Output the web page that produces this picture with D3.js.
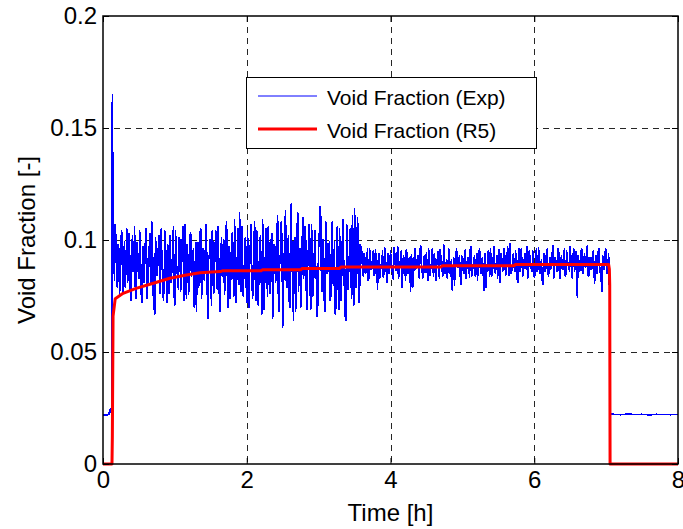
<!DOCTYPE html>
<html><head><meta charset="utf-8">
<script src="https://cdn.jsdelivr.net/npm/d3@7"></script>
<style>
body{margin:0;background:#fff}
text{font-family:"Liberation Sans",Arial,Helvetica,sans-serif;fill:#000}
</style>
</head><body>
<svg id="chart" width="683" height="529"></svg>
<script>
// ---------- data ----------
const xTicks = [0, 2, 4, 6, 8];
const xTickLabels = ["0", "2", "4", "6", "8"];
const yTicks = [0, 0.05, 0.1, 0.15, 0.2];
const yTickLabels = ["0", "0.05", "0.1", "0.15", "0.2"];
const seriesNames = ["Void Fraction (Exp)", "Void Fraction (R5)"];
const xLabel = "Time [h]";
const yLabel = "Void Fraction [-]";

// Experimental void fraction, sampled segments (start time [h], step [h], values)
const expBeforeStart = 0, expBeforeStep = 0.02;
const expBefore = [0.0222,0.0218,0.0221,0.0219,0.0222,0.0245,0.0221];
const expSpike = [[0.13, 0.165]];
const expTransientStart = 0.14, expTransientStep = 0.02;
const expTransient = [
0.114,0.082,0.101,0.079,0.096,0.084,0.104,0.076,0.099,0.088,
0.081,0.103,0.077,0.095,0.086,0.106,0.074,0.092,0.083,0.100,
0.072,0.097,0.089,0.105,0.078,0.093,0.085,0.108,0.075,0.067,
0.096,0.087,0.102,0.079,0.091,0.073,0.104,0.084,0.098,0.076,
0.094,0.088,0.106,0.071,0.090,0.082,0.101,0.077,0.097,0.086,
0.107,0.074,0.093,0.080,0.103,0.085,0.096,0.072,0.068,0.099,
0.083,0.105,0.078,0.094,0.089,0.102,0.065,0.092,0.081,0.104,
0.076,0.097,0.087,0.106,0.073,0.095,0.084,0.100,0.079,0.108,
0.070,0.093,0.086,0.103,0.075,0.098,0.082,0.105,0.112,0.077,
0.096,0.085,0.101,0.072,0.094,0.088,0.107,0.074,0.099,0.080,
0.104,0.071,0.097,0.086,0.109,0.069,0.095,0.083,0.106,0.076,
0.100,0.065,0.098,0.081,0.104,0.073,0.093,0.108,0.061,0.090,
0.113,0.079,0.102,0.070,0.116,0.084,0.099,0.068,0.105,0.077,
0.096,0.072,0.110,0.086,0.101,0.069,0.097,0.080,0.107,0.075,
0.094,0.083,0.066,0.103,0.115,0.078,0.100,0.071,0.108,0.085,
0.096,0.073,0.104,0.081,0.099,0.070,0.106,0.069,0.095,0.082,
0.109,0.076,0.064,0.101,0.087,0.105,0.074,0.097,0.114,0.079,
0.110,0.072,0.098];
const expTransientBStart = 0.15, expTransientBStep = 0.02;
const expTransientB = [
0.093,0.107,0.080,0.098,0.075,0.101,0.087,0.094,0.079,0.105,
0.083,0.097,0.073,0.102,0.090,0.078,0.099,0.086,0.104,0.077,
0.095,0.081,0.100,0.074,0.092,0.103,0.080,0.096,0.070,0.101,
0.084,0.097,0.076,0.105,0.088,0.079,0.099,0.072,0.093,0.102,
0.081,0.096,0.075,0.104,0.087,0.078,0.100,0.083,0.106,0.073,
0.091,0.098,0.076,0.102,0.084,0.095,0.070,0.099,0.088,0.079,
0.103,0.074,0.096,0.082,0.107,0.077,0.093,0.100,0.071,0.097,
0.085,0.104,0.078,0.092,0.068,0.101,0.089,0.076,0.105,0.083,
0.097,0.074,0.102,0.086,0.109,0.072,0.094,0.080,0.099,0.106,
0.075,0.091,0.083,0.104,0.070,0.098,0.087,0.078,0.108,0.073,
0.096,0.085,0.102,0.067,0.099,0.081,0.105,0.075,0.094,0.088,
0.103,0.071,0.097,0.084,0.111,0.068,0.092,0.100,0.076,0.106,
0.082,0.095,0.073,0.109,0.087,0.064,0.101,0.079,0.112,0.085,
0.070,0.098,0.083,0.106,0.074,0.093,0.107,0.069,0.100,0.081,
0.104,0.088,0.072,0.097,0.110,0.077,0.094,0.068,0.103,0.086,
0.099,0.075,0.108,0.080,0.067,0.096,0.084,0.105,0.073,0.100,
0.089,0.066,0.107,0.078,0.095,0.083,0.111,0.071,0.099,0.085,
0.104,0.076];
const expSteadyStart = 3.60, expSteadyStep = 0.02;
const expSteady = [
0.095,0.084,0.0935,0.086,0.096,0.083,0.091,0.087,0.095,0.0845,
0.092,0.078,0.094,0.086,0.090,0.0835,0.0965,0.087,0.093,0.085,
0.095,0.088,0.0825,0.094,0.0865,0.097,0.084,0.0915,0.079,0.093,
0.0875,0.0955,0.085,0.092,0.077,0.090,0.084,0.096,0.088,0.093,
0.083,0.0975,0.086,0.091,0.0855,0.0945,0.082,0.0925,0.087,0.096,
0.084,0.0905,0.088,0.095,0.083,0.093,0.086,0.098,0.085,0.091,
0.087,0.094,0.084,0.0775,0.092,0.086,0.096,0.088,0.093,0.080,
0.090,0.085,0.0955,0.087,0.092,0.0835,0.097,0.086,0.091,0.084,
0.094,0.088,0.096,0.085,0.092,0.0775,0.093,0.087,0.095,0.084,
0.0915,0.086,0.097,0.085,0.093,0.088,0.081,0.094,0.086,0.096,
0.0845,0.092,0.087,0.0985,0.085,0.091,0.088,0.095,0.083,0.093,
0.086,0.096,0.084,0.091,0.088,0.097,0.085,0.0925,0.087,0.095,
0.0835,0.093,0.086,0.0965,0.085,0.091,0.080,0.094,0.087,0.096,
0.084,0.092,0.088,0.0975,0.085,0.091,0.086,0.095,0.083,0.093,
0.087,0.096,0.0845,0.092,0.088,0.097,0.085,0.093,0.086,0.095,
0.0745,0.091,0.087,0.096,0.085,0.094,0.088,0.0975,0.084,0.092,
0.087,0.095,0.0805,0.093,0.086,0.096,0.085,0.077,0.092,0.088,
0.0955,0.086];
const expSteadyBStart = 3.61, expSteadyBStep = 0.02;
const expSteadyB = [
0.088,0.094,0.085,0.090,0.082,0.096,0.087,0.092,0.084,0.0955,
0.086,0.091,0.083,0.089,0.095,0.085,0.092,0.081,0.094,0.088,
0.090,0.084,0.0965,0.087,0.092,0.083,0.089,0.095,0.085,0.091,
0.082,0.094,0.088,0.086,0.0935,0.079,0.092,0.087,0.091,0.085,
0.095,0.088,0.083,0.093,0.089,0.086,0.096,0.084,0.090,0.087,
0.094,0.082,0.091,0.086,0.0955,0.088,0.084,0.092,0.089,0.083,
0.096,0.085,0.091,0.087,0.080,0.094,0.088,0.090,0.084,0.093,
0.087,0.095,0.083,0.091,0.088,0.096,0.084,0.089,0.093,0.086,
0.082,0.095,0.087,0.091,0.085,0.094,0.079,0.090,0.088,0.096,
0.084,0.092,0.087,0.089,0.083,0.0955,0.086,0.091,0.088,0.093,
0.085,0.097,0.084,0.090,0.087,0.094,0.086,0.092,0.081,0.096,
0.088,0.090,0.085,0.094,0.087,0.083,0.095,0.089,0.086,0.092,
0.084,0.096,0.087,0.091,0.088,0.082,0.093,0.086,0.095,0.085,
0.090,0.087,0.094,0.083,0.092,0.088,0.096,0.085,0.091,0.087,
0.093,0.084,0.095,0.089,0.086,0.092,0.083,0.096,0.088,0.079,
0.093,0.086,0.095,0.085,0.091,0.088,0.096,0.084,0.092,0.087,
0.094,0.086,0.091,0.085,0.095,0.088,0.083,0.093,0.087,0.096,
0.085];
const expShutdown = [[7.035,0.094],[7.045,0.079],[7.05,0.0256],[7.06,0.0228],[7.08,0.0222]];
const expAfterStart = 7.1, expAfterStep = 0.1;
const expAfter = [0.0222,0.0220,0.0223,0.0221,0.0222,0.0219,0.0222,0.0221,0.0220,0.0221];

// RELAP5 void fraction
const r5Time  = [0,0.125,0.13,0.14,0.17,0.28,0.46,0.70,0.93,1.16,1.35,1.63,1.67,2.20,2.22,2.75,2.77,3.29,3.31,4.70,4.72,5.72,5.74,7.035,7.045,7.05,7.055,8.0];
const r5Value = [0,0,0.012,0.066,0.0738,0.0762,0.0784,0.0807,0.0829,0.0844,0.0854,0.0859,0.0863,0.0863,0.0867,0.0867,0.0873,0.0873,0.0879,0.0879,0.0885,0.0885,0.0891,0.0891,0.087,0.080,0,0];

// ---------- build point lists ----------
function sampled(start, step, vals){ return vals.map((v,i)=>[+(start+i*step).toFixed(4), v]); }
const expPoints = [].concat(
  sampled(expBeforeStart, expBeforeStep, expBefore),
  expSpike,
  sampled(expTransientStart, expTransientStep, expTransient),
  sampled(expTransientBStart, expTransientBStep, expTransientB),
  sampled(expSteadyStart, expSteadyStep, expSteady),
  sampled(expSteadyBStart, expSteadyBStep, expSteadyB),
  expShutdown,
  sampled(expAfterStart, expAfterStep, expAfter)
).sort((a, b) => a[0] - b[0]);
const r5Points = r5Time.map((t,i)=>[t, r5Value[i]]);

// ---------- layout ----------
const L = 103, R = 678, T = 16, B = 464;
const svg = d3.select("#chart");
const x = d3.scaleLinear().domain([0, 8]).range([L, R]);
const y = d3.scaleLinear().domain([0, 0.2]).range([B, T]);

// grid
const grid = svg.append("g").attr("stroke", "#262626").attr("stroke-width", 1).attr("stroke-dasharray", "6,5");
grid.selectAll("line.vx").data(xTicks.filter(d => d > 0 && d < 8)).join("line")
  .attr("x1", d => Math.round(x(d)) + 0.5).attr("x2", d => Math.round(x(d)) + 0.5)
  .attr("y1", T).attr("y2", B);
grid.selectAll("line.hy").data(yTicks.filter(d => d > 0 && d < 0.2)).join("line")
  .attr("y1", d => Math.round(y(d)) + 0.5).attr("y2", d => Math.round(y(d)) + 0.5)
  .attr("x1", L).attr("x2", R);

// data lines
const line = d3.line().x(d => x(d[0])).y(d => y(d[1]));
svg.append("path").datum(expPoints).attr("d", line)
  .attr("fill", "none").attr("stroke", "#0000ff").attr("stroke-width", 1.6)
  .attr("stroke-linejoin", "round").attr("shape-rendering", "crispEdges");
svg.append("path").datum(r5Points).attr("d", line)
  .attr("fill", "none").attr("stroke", "#ff0000").attr("stroke-width", 3).attr("stroke-linejoin", "round");

// axes (ticks inside, on all four sides)
function styleAxis(g){
  g.select(".domain").remove();
  g.selectAll(".tick line").attr("stroke", "#000").attr("stroke-width", 1);
  g.selectAll(".tick text").attr("font-size", 24).attr("fill", "#000")
    .attr("font-family", '"Liberation Sans",Arial,sans-serif');
}
svg.append("g").attr("transform", `translate(0,${B})`)
  .call(d3.axisBottom(x).tickValues(xTicks).tickFormat((d,i)=>xTickLabels[i]).tickSizeInner(-6).tickSizeOuter(0).tickPadding(7))
  .call(styleAxis);
svg.append("g").attr("transform", `translate(0,${T})`)
  .call(d3.axisTop(x).tickValues(xTicks).tickFormat("").tickSizeInner(-6).tickSizeOuter(0))
  .call(styleAxis);
svg.append("g").attr("transform", `translate(${L},0)`)
  .call(d3.axisLeft(y).tickValues(yTicks).tickFormat((d,i)=>yTickLabels[i]).tickSizeInner(-6).tickSizeOuter(0).tickPadding(6))
  .call(styleAxis);
svg.append("g").attr("transform", `translate(${R},0)`)
  .call(d3.axisRight(y).tickValues(yTicks).tickFormat("").tickSizeInner(-6).tickSizeOuter(0))
  .call(styleAxis);

// frame
svg.append("rect").attr("x", L).attr("y", T).attr("width", R - L).attr("height", B - T)
  .attr("fill", "none").attr("stroke", "#000").attr("stroke-width", 1.5);

// axis labels
svg.append("text").attr("x", (L + R) / 2).attr("y", 521).attr("text-anchor", "middle")
  .attr("font-size", 24).text(xLabel);
svg.append("text").attr("transform", `translate(35,${(T + B) / 2}) rotate(-90)`)
  .attr("text-anchor", "middle").attr("font-size", 24).text(yLabel);

// legend
const lg = svg.append("g");
lg.append("rect").attr("x", 246.5).attr("y", 77.5).attr("width", 290).attr("height", 71)
  .attr("fill", "#fff").attr("stroke", "#000").attr("stroke-width", 1);
const legendColors = ["#0000ff", "#ff0000"];
const legendWidths = [1, 3];
seriesNames.forEach((name, i) => {
  const cy = 96 + i * 33;
  lg.append("line").attr("x1", 258).attr("x2", 317).attr("y1", cy).attr("y2", cy)
    .attr("stroke", legendColors[i]).attr("stroke-width", legendWidths[i]);
  lg.append("text").attr("x", 327).attr("y", cy + 9).attr("font-size", 21).text(name);
});
</script>
</body></html>
